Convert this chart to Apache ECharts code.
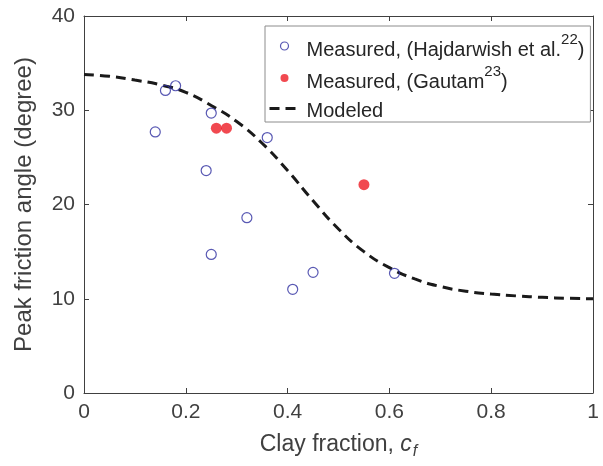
<!DOCTYPE html>
<html>
<head>
<meta charset="utf-8">
<script src="https://cdn.jsdelivr.net/npm/echarts@6/dist/echarts.min.js"></script>
<style>html,body{margin:0;padding:0;background:#fff}#c{width:603px;height:466px}</style>
</head>
<body>
<div id="c"></div>
<script>
// Measured (Hajdarwish et al.)
const hajX = [0.14, 0.16, 0.18, 0.25, 0.24, 0.25, 0.32, 0.36, 0.41, 0.45, 0.61];
const hajY = [27.7, 32.1, 32.6, 29.7, 23.6, 14.7, 18.6, 27.1, 11.0, 12.8, 12.7];
// Measured (Gautam)
const gauX = [0.26, 0.28, 0.55];
const gauY = [28.1, 28.1, 22.1];
// Modeled curve
const modX = [0, 0.05, 0.1, 0.15, 0.2, 0.25, 0.3, 0.35, 0.4, 0.45, 0.5, 0.55, 0.6, 0.65, 0.7, 0.75, 0.8, 0.85, 0.9, 0.95, 1.0];
const modY = [33.8, 33.6, 33.2, 32.7, 31.9, 30.5, 28.8, 26.5, 23.6, 20.4, 17.4, 15.0, 13.3, 12.1, 11.3, 10.8, 10.5, 10.3, 10.15, 10.05, 10.0];

const FONT = '"Liberation Sans", Arial, sans-serif';
const AX = '#404040';
const zip = (a, b) => a.map((v, i) => [v, b[i]]);

const chart = echarts.init(document.getElementById('c'), null, {renderer: 'canvas'});
const axisCommon = {
  axisLine: {show: true, onZero: false, lineStyle: {color: AX, width: 1}},
  axisTick: {show: true, inside: true, length: 5, lineStyle: {color: AX}},
  splitLine: {show: false}
};
chart.setOption({
  animation: false,
  backgroundColor: '#fff',
  grid: {left: 84, right: 10, top: 16, bottom: 73, containLabel: false},
  xAxis: [
    Object.assign({
      type: 'value', min: 0, max: 1, interval: 0.2, position: 'bottom',
      axisLabel: {color: AX, fontSize: 21, fontFamily: FONT, margin: 9},
      name: 'Clay fraction, {i|c}{sub|f}', nameLocation: 'middle', nameGap: 37,
      nameTextStyle: {color: AX, fontSize: 23, fontFamily: FONT,
        rich: {
          i: {fontStyle: 'italic', fontSize: 23, fontFamily: FONT, color: AX},
          sub: {fontStyle: 'italic', fontSize: 16, fontFamily: FONT, color: AX, padding: [14, 0, 0, 1]}
        }}
    }, axisCommon),
    Object.assign({
      type: 'value', min: 0, max: 1, interval: 0.2, position: 'top',
      axisLabel: {show: false}
    }, axisCommon)
  ],
  yAxis: [
    Object.assign({
      type: 'value', min: 0, max: 40, interval: 10, position: 'left',
      axisLabel: {color: AX, fontSize: 21, fontFamily: FONT, margin: 9},
      name: 'Peak friction angle (degree)', nameLocation: 'middle', nameGap: 48,
      nameTextStyle: {color: AX, fontSize: 24, fontFamily: FONT}
    }, axisCommon),
    Object.assign({
      type: 'value', min: 0, max: 40, interval: 10, position: 'right',
      axisLabel: {show: false}
    }, axisCommon)
  ],
  legend: {
    show: true, orient: 'vertical', left: 265, top: 26,
    padding: [6, 6, 1, 3], itemGap: 4,
    itemWidth: 30, itemHeight: 8,
    backgroundColor: '#fff', borderColor: '#8c8c8c', borderWidth: 1,
    textStyle: {color: '#262626', fontSize: 20, fontFamily: FONT, padding: [0, 0, 0, 2],
      rich: {
        t: {fontSize: 20, fontFamily: FONT, color: '#262626', lineHeight: 28, verticalAlign: 'bottom'},
        s: {fontSize: 15, fontFamily: FONT, color: '#262626', lineHeight: 28, verticalAlign: 'top'},
        m: {fontSize: 20, fontFamily: FONT, color: '#262626', lineHeight: 28, padding: [5, 0, 0, 0]}
      }},
    formatter: function (name) {
      if (name === 'haj') return '{t|Measured, (Hajdarwish et al.}{s|22}{t|)}';
      if (name === 'gau') return '{t|Measured, (Gautam}{s|23}{t|)}';
      return '{m|Modeled}';
    },
    data: [
      {name: 'haj', icon: 'circle', itemStyle: {borderWidth: 1.2}},
      {name: 'gau', icon: 'circle'},
      {name: 'mod', itemStyle: {opacity: 0}, lineStyle: {width: 3}}
    ]
  },
  series: [
    {
      name: 'mod', type: 'line', data: zip(modX, modY), smooth: true, showSymbol: false, symbol: 'none',
      lineStyle: {color: '#1a1a1a', width: 3, type: [10, 6]}, itemStyle: {color: '#1a1a1a'}, z: 2
    },
    {
      name: 'haj', type: 'scatter', data: zip(hajX, hajY), symbol: 'circle', symbolSize: 10,
      itemStyle: {color: 'rgba(255,255,255,0)', borderColor: '#3030a0', borderWidth: 1.2}, z: 3
    },
    {
      name: 'gau', type: 'scatter', data: zip(gauX, gauY), symbol: 'circle', symbolSize: 11,
      itemStyle: {color: '#ee1c24', borderColor: '#ee1c24', borderWidth: 0}, z: 3
    }
  ]
});
</script>
</body>
</html>
